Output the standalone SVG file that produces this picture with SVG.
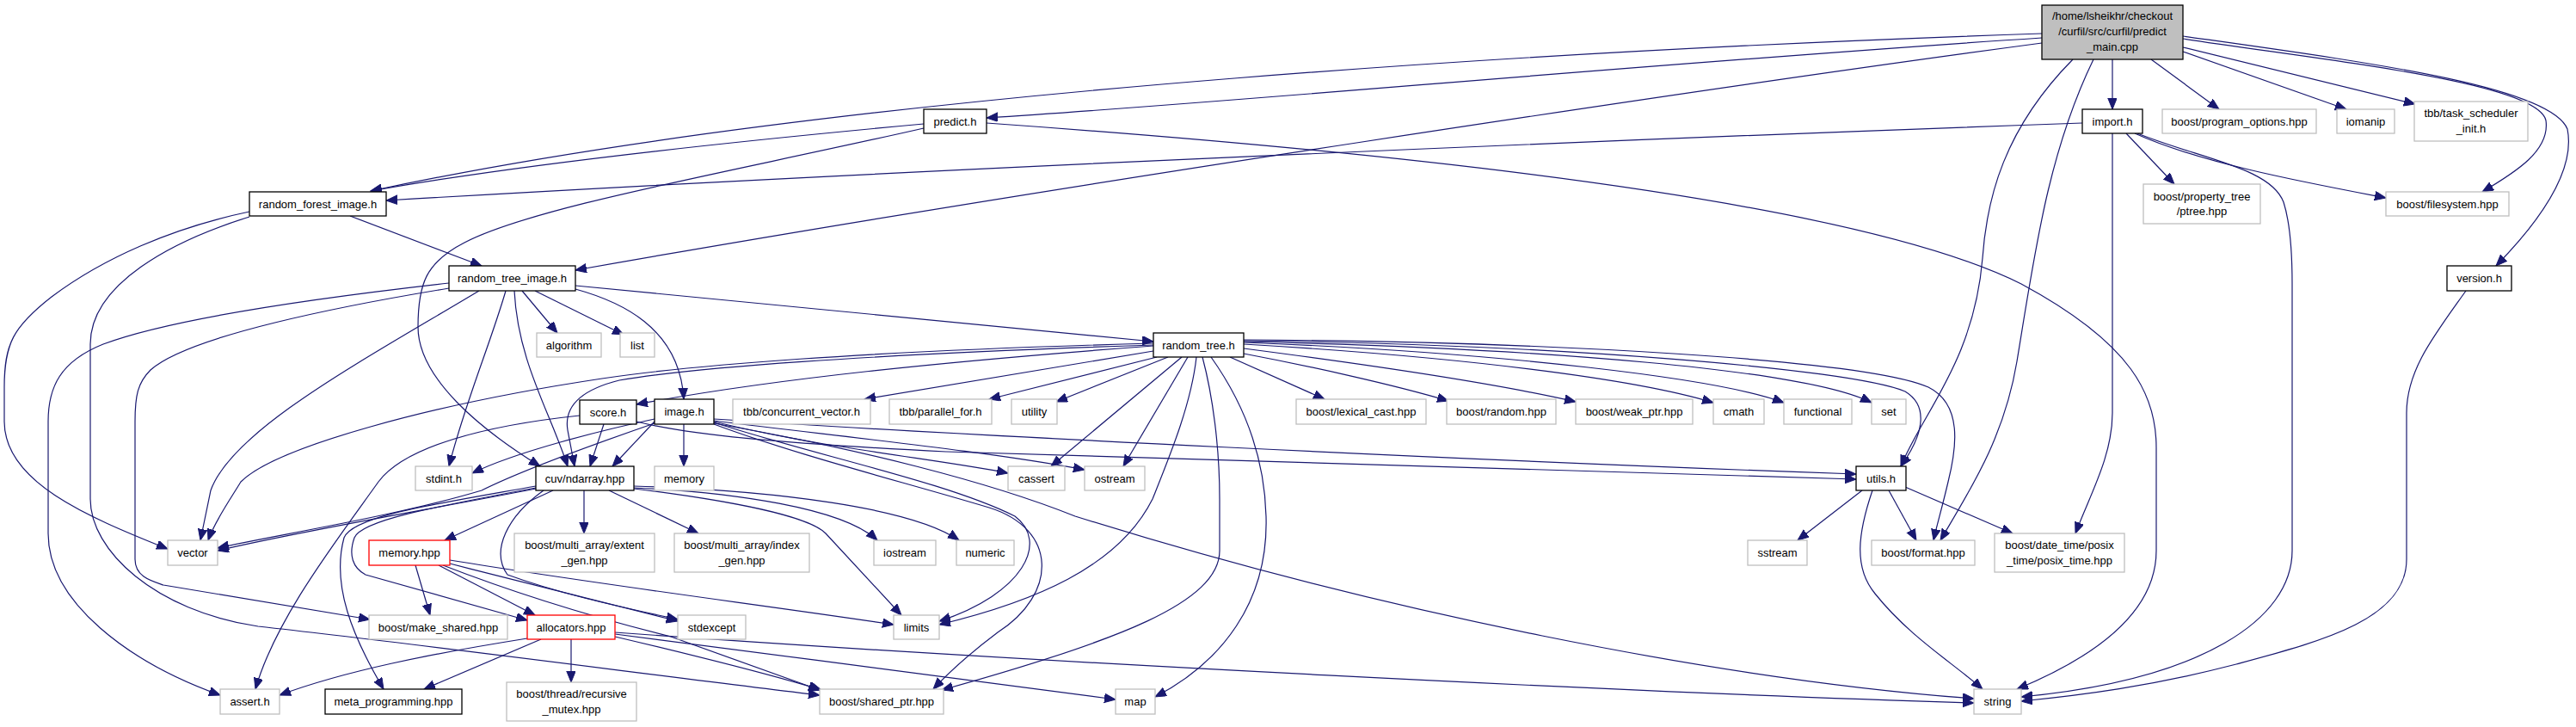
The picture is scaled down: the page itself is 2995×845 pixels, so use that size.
<svg xmlns="http://www.w3.org/2000/svg" width="2995" height="845" viewBox="0 0 2995 845">
<style>
.n rect{fill:#fff;stroke-width:1.3}
.doc rect{stroke:#000}
.ext rect{stroke:#bfbfbf}
.red rect{stroke:#ff0000}
.main rect{fill:#bfbfbf;stroke:#000}
text{font-family:"Liberation Sans",Arial,sans-serif;font-size:13px;text-anchor:middle;fill:#000}
#edges path{fill:none;stroke:#191970;stroke-width:1.2;marker-end:url(#a)}
</style>
<defs>
<marker id="a" markerUnits="userSpaceOnUse" markerWidth="14" markerHeight="12" refX="13" refY="5.25" orient="auto">
<path d="M0,0 L13,5.25 L0,10.5 z" fill="#191970" stroke="#191970" stroke-width="1"/>
</marker>
</defs>
<rect width="2995" height="845" fill="#fff"/>
<g id="edges">
<path d="M2374,44 C1900,75 1450,118 1147,137"/>
<path d="M2374,39 C1900,55 1000,100 431,222"/>
<path d="M2374,50 C2000,100 1200,220 669,314"/>
<path d="M2456,69 L2456,127"/>
<path d="M2501,69 L2580,127"/>
<path d="M2538,60 L2728,127"/>
<path d="M2538,55 L2808,121"/>
<path d="M2538,45 C2700,70 2950,95 2960,140 C2965,175 2925,200 2886,223"/>
<path d="M2538,42 C2750,72 2965,100 2985,150 C2995,200 2950,260 2902,309"/>
<path d="M2410,69 C2330,150 2310,230 2305,300 C2295,420 2235,480 2210,542"/>
<path d="M2434,69 C2380,180 2365,300 2345,420 C2330,510 2290,570 2256,628"/>
<path d="M1074,144 C900,160 620,188 431,222"/>
<path d="M1074,149 C850,200 620,240 540,282 C495,305 486,330 486,380 C486,440 560,500 628,542"/>
<path d="M1147,143 C1600,175 2150,230 2350,330 C2480,400 2507,460 2507,520 L2507,640 C2507,720 2420,770 2345,801"/>
<path d="M2421,143 C1800,165 1000,200 449,233"/>
<path d="M2472,155 L2528,214"/>
<path d="M2482,155 C2560,190 2680,212 2774,230"/>
<path d="M2485,155 C2560,185 2640,195 2655,235 C2663,260 2665,300 2665,330 L2665,640 C2665,720 2560,790 2350,810"/>
<path d="M2456,155 L2456,480 C2456,530 2430,575 2413,620"/>
<path d="M2867,338 C2830,390 2798,430 2798,480 L2798,650 C2798,720 2700,745 2600,772 C2500,798 2420,808 2350,815"/>
<path d="M407,251 L560,309"/>
<path d="M290,246 C200,265 120,300 60,345 C15,380 5,400 5,450 L5,490 C5,560 100,600 195,638"/>
<path d="M290,252 C200,280 105,330 105,400 L105,580 C105,640 180,710 300,728 C500,750 800,790 953,808"/>
<path d="M607,338 L648,387"/>
<path d="M622,338 L725,389"/>
<path d="M588,338 C570,400 540,470 522,542"/>
<path d="M598,338 C602,420 640,480 660,542"/>
<path d="M669,332 L1341,397"/>
<path d="M669,336 C720,350 790,380 795,464"/>
<path d="M557,338 C420,420 270,500 245,570 L233,628"/>
<path d="M522,329 C380,345 200,370 120,400 C70,420 56,450 56,490 L56,620 C56,700 150,770 256,808"/>
<path d="M522,335 C400,355 220,390 175,430 C160,445 157,460 157,490 L157,650 C157,670 175,675 190,680 L430,720"/>
<path d="M1341,402 C1100,420 900,440 740,470"/>
<path d="M1341,399 C1000,408 800,425 700,440 C500,470 320,520 280,560 C268,580 250,605 242,628"/>
<path d="M1341,401 C1000,412 800,428 720,442 C680,452 655,470 660,500 L668,542"/>
<path d="M1341,408 L1005,464"/>
<path d="M1345,415 L1150,464"/>
<path d="M1358,415 L1228,467"/>
<path d="M1374,415 L1222,542"/>
<path d="M1381,415 L1306,542"/>
<path d="M1391,415 C1385,470 1360,530 1340,580 C1300,660 1200,700 1092,726"/>
<path d="M1398,415 C1410,460 1418,520 1418,580 L1418,640 C1418,700 1300,745 1095,802"/>
<path d="M1408,415 C1440,460 1470,520 1472,600 C1475,700 1420,770 1343,810"/>
<path d="M1430,415 L1540,464"/>
<path d="M1446,411 C1520,425 1620,447 1684,466"/>
<path d="M1446,405 C1600,425 1750,448 1832,467"/>
<path d="M1446,400 C1700,415 1900,440 1992,468"/>
<path d="M1446,398 C1750,410 2000,440 2074,468"/>
<path d="M1446,397 C1800,405 2100,430 2176,468"/>
<path d="M1446,396 C1800,400 2150,428 2215,455 C2240,470 2240,500 2210,542"/>
<path d="M1446,395 C1800,397 2170,418 2242,450 C2282,470 2275,520 2265,560 C2258,590 2252,610 2248,628"/>
<path d="M702,493 L686,542"/>
<path d="M674,483 C560,495 470,520 440,560 C390,630 320,720 297,801"/>
<path d="M740,490 C800,505 900,515 1100,525 C1500,535 1900,548 2158,557"/>
<path d="M761,490 L712,542"/>
<path d="M761,487 C700,500 600,525 549,550"/>
<path d="M761,492 C680,520 600,550 560,570 C460,600 320,622 253,637"/>
<path d="M795,493 L795,542"/>
<path d="M830,490 C950,520 1100,535 1172,550"/>
<path d="M830,489 C1000,510 1150,525 1261,546"/>
<path d="M830,487 C1100,505 1700,535 2158,551"/>
<path d="M830,492 C1000,522 1150,560 1250,600 C1600,710 2000,790 2295,812"/>
<path d="M830,491 C950,530 1100,560 1180,600 C1220,630 1190,690 1092,722"/>
<path d="M830,493 C930,530 1050,560 1150,590 C1230,615 1230,690 1160,735 C1120,765 1100,785 1085,801"/>
<path d="M643,570 L517,628"/>
<path d="M679,570 L679,620"/>
<path d="M708,570 L812,620"/>
<path d="M737,567 C850,572 980,590 1020,628"/>
<path d="M737,565 C900,570 1060,590 1115,628"/>
<path d="M737,568 C850,582 940,600 960,620 L1048,715"/>
<path d="M632,570 C590,600 570,640 590,668 C650,690 720,705 788,720"/>
<path d="M623,567 C500,590 420,605 412,625 C405,645 410,660 425,668 L613,721"/>
<path d="M623,565 C500,587 410,600 400,625 C385,680 410,740 446,801"/>
<path d="M623,568 C500,592 350,617 253,640"/>
<path d="M483,657 L500,715"/>
<path d="M510,657 L622,715"/>
<path d="M523,651 C700,680 900,705 1039,726"/>
<path d="M523,655 C620,680 720,705 788,722"/>
<path d="M515,657 C600,690 700,720 780,740 C850,765 920,790 953,802"/>
<path d="M613,742 C500,760 400,780 325,808"/>
<path d="M629,743 L493,801"/>
<path d="M664,743 L664,793"/>
<path d="M715,740 C800,760 900,785 955,802"/>
<path d="M715,737 C900,760 1150,795 1297,813"/>
<path d="M715,735 C1200,770 1900,805 2295,817"/>
<path d="M2165,570 L2090,628"/>
<path d="M2196,570 L2228,628"/>
<path d="M2177,570 C2160,620 2155,660 2180,690 C2220,740 2270,770 2305,801"/>
<path d="M2215,566 L2340,620"/>
</g>
<g id="n_main" class="n main"><rect x="2374" y="6" width="164" height="63"/><text x="2456" y="23">/home/lsheikhr/checkout</text><text x="2456" y="41">/curfil/src/curfil/predict</text><text x="2456" y="59">_main.cpp</text></g>
<g id="n_predict" class="n doc"><rect x="1074" y="127" width="73" height="28"/><text x="1110.5" y="145.5">predict.h</text></g>
<g id="n_import" class="n doc"><rect x="2421" y="127" width="70" height="28"/><text x="2456" y="145.5">import.h</text></g>
<g id="n_progopt" class="n ext"><rect x="2514" y="127" width="179" height="28"/><text x="2603.5" y="145.5">boost/program_options.hpp</text></g>
<g id="n_iomanip" class="n ext"><rect x="2717" y="127" width="67" height="28"/><text x="2750.5" y="145.5">iomanip</text></g>
<g id="n_tbbinit" class="n ext"><rect x="2807" y="118" width="132" height="46"/><text x="2873" y="136">tbb/task_scheduler</text><text x="2873" y="153.5">_init.h</text></g>
<g id="n_rfi" class="n doc"><rect x="290" y="223" width="159" height="28"/><text x="369.5" y="241.5">random_forest_image.h</text></g>
<g id="n_ptree" class="n ext"><rect x="2492" y="214" width="136" height="46"/><text x="2560" y="232.8">boost/property_tree</text><text x="2560" y="250.2">/ptree.hpp</text></g>
<g id="n_fs" class="n ext"><rect x="2774" y="223" width="143" height="28"/><text x="2845.5" y="241.5">boost/filesystem.hpp</text></g>
<g id="n_rti" class="n doc"><rect x="522" y="309" width="147" height="29"/><text x="595.5" y="328">random_tree_image.h</text></g>
<g id="n_version" class="n doc"><rect x="2845" y="309" width="75" height="29"/><text x="2882.5" y="328">version.h</text></g>
<g id="n_algorithm" class="n ext"><rect x="624" y="387" width="75" height="28"/><text x="661.5" y="405.5">algorithm</text></g>
<g id="n_list" class="n ext"><rect x="721" y="387" width="40" height="28"/><text x="741" y="405.5">list</text></g>
<g id="n_rt" class="n doc"><rect x="1341" y="387" width="105" height="28"/><text x="1393.5" y="405.5">random_tree.h</text></g>
<g id="n_score" class="n doc"><rect x="674" y="465" width="66" height="28"/><text x="707" y="483.5">score.h</text></g>
<g id="n_image" class="n doc"><rect x="761" y="464" width="69" height="29"/><text x="795.5" y="483">image.h</text></g>
<g id="n_tbbcv" class="n ext"><rect x="852" y="464" width="160" height="29"/><text x="932" y="483">tbb/concurrent_vector.h</text></g>
<g id="n_tbbpf" class="n ext"><rect x="1034" y="464" width="119" height="29"/><text x="1093.5" y="483">tbb/parallel_for.h</text></g>
<g id="n_utility" class="n ext"><rect x="1176" y="464" width="53" height="29"/><text x="1202.5" y="483">utility</text></g>
<g id="n_lexcast" class="n ext"><rect x="1507" y="464" width="151" height="29"/><text x="1582.5" y="483">boost/lexical_cast.hpp</text></g>
<g id="n_random" class="n ext"><rect x="1682" y="464" width="127" height="29"/><text x="1745.5" y="483">boost/random.hpp</text></g>
<g id="n_weakptr" class="n ext"><rect x="1832" y="464" width="136" height="29"/><text x="1900" y="483">boost/weak_ptr.hpp</text></g>
<g id="n_cmath" class="n ext"><rect x="1992" y="464" width="59" height="29"/><text x="2021.5" y="483">cmath</text></g>
<g id="n_functional" class="n ext"><rect x="2074" y="464" width="79" height="29"/><text x="2113.5" y="483">functional</text></g>
<g id="n_set" class="n ext"><rect x="2176" y="464" width="40" height="29"/><text x="2196" y="483">set</text></g>
<g id="n_stdint" class="n ext"><rect x="483" y="542" width="66" height="28"/><text x="516" y="560.5">stdint.h</text></g>
<g id="n_ndarray" class="n doc"><rect x="623" y="542" width="114" height="28"/><text x="680" y="560.5">cuv/ndarray.hpp</text></g>
<g id="n_memory" class="n ext"><rect x="761" y="542" width="69" height="28"/><text x="795.5" y="560.5">memory</text></g>
<g id="n_cassert" class="n ext"><rect x="1172" y="542" width="66" height="28"/><text x="1205" y="560.5">cassert</text></g>
<g id="n_ostream" class="n ext"><rect x="1261" y="542" width="70" height="28"/><text x="1296" y="560.5">ostream</text></g>
<g id="n_utils" class="n doc"><rect x="2158" y="542" width="58" height="28"/><text x="2187" y="560.5">utils.h</text></g>
<g id="n_vector" class="n ext"><rect x="195" y="628" width="58" height="29"/><text x="224" y="647">vector</text></g>
<g id="n_memhpp" class="n red"><rect x="429" y="628" width="94" height="29"/><text x="476" y="647">memory.hpp</text></g>
<g id="n_extent" class="n ext"><rect x="598" y="620" width="163" height="45"/><text x="679.5" y="638.3">boost/multi_array/extent</text><text x="679.5" y="655.7">_gen.hpp</text></g>
<g id="n_index" class="n ext"><rect x="784" y="620" width="157" height="45"/><text x="862.5" y="638.3">boost/multi_array/index</text><text x="862.5" y="655.7">_gen.hpp</text></g>
<g id="n_iostream" class="n ext"><rect x="1016" y="628" width="72" height="29"/><text x="1052" y="647">iostream</text></g>
<g id="n_numeric" class="n ext"><rect x="1112" y="628" width="67" height="29"/><text x="1145.5" y="647">numeric</text></g>
<g id="n_sstream" class="n ext"><rect x="2032" y="628" width="69" height="29"/><text x="2066.5" y="647">sstream</text></g>
<g id="n_format" class="n ext"><rect x="2176" y="628" width="120" height="29"/><text x="2236" y="647">boost/format.hpp</text></g>
<g id="n_posix" class="n ext"><rect x="2319" y="620" width="151" height="45"/><text x="2394.5" y="638.3">boost/date_time/posix</text><text x="2394.5" y="655.7">_time/posix_time.hpp</text></g>
<g id="n_makeshared" class="n ext"><rect x="429" y="715" width="161" height="28"/><text x="509.5" y="733.5">boost/make_shared.hpp</text></g>
<g id="n_alloc" class="n red"><rect x="613" y="715" width="102" height="28"/><text x="664" y="733.5">allocators.hpp</text></g>
<g id="n_stdexcept" class="n ext"><rect x="788" y="715" width="79" height="28"/><text x="827.5" y="733.5">stdexcept</text></g>
<g id="n_limits" class="n ext"><rect x="1039" y="715" width="53" height="28"/><text x="1065.5" y="733.5">limits</text></g>
<g id="n_assert" class="n ext"><rect x="256" y="801" width="69" height="29"/><text x="290.5" y="820">assert.h</text></g>
<g id="n_meta" class="n doc"><rect x="378" y="801" width="159" height="29"/><text x="457.5" y="820">meta_programming.hpp</text></g>
<g id="n_mutex" class="n ext"><rect x="589" y="793" width="151" height="45"/><text x="664.5" y="811.3">boost/thread/recursive</text><text x="664.5" y="828.7">_mutex.hpp</text></g>
<g id="n_sharedptr" class="n ext"><rect x="953" y="801" width="144" height="29"/><text x="1025" y="820">boost/shared_ptr.hpp</text></g>
<g id="n_map" class="n ext"><rect x="1297" y="801" width="46" height="29"/><text x="1320" y="820">map</text></g>
<g id="n_string" class="n ext"><rect x="2295" y="801" width="55" height="29"/><text x="2322.5" y="820">string</text></g>
</svg>
